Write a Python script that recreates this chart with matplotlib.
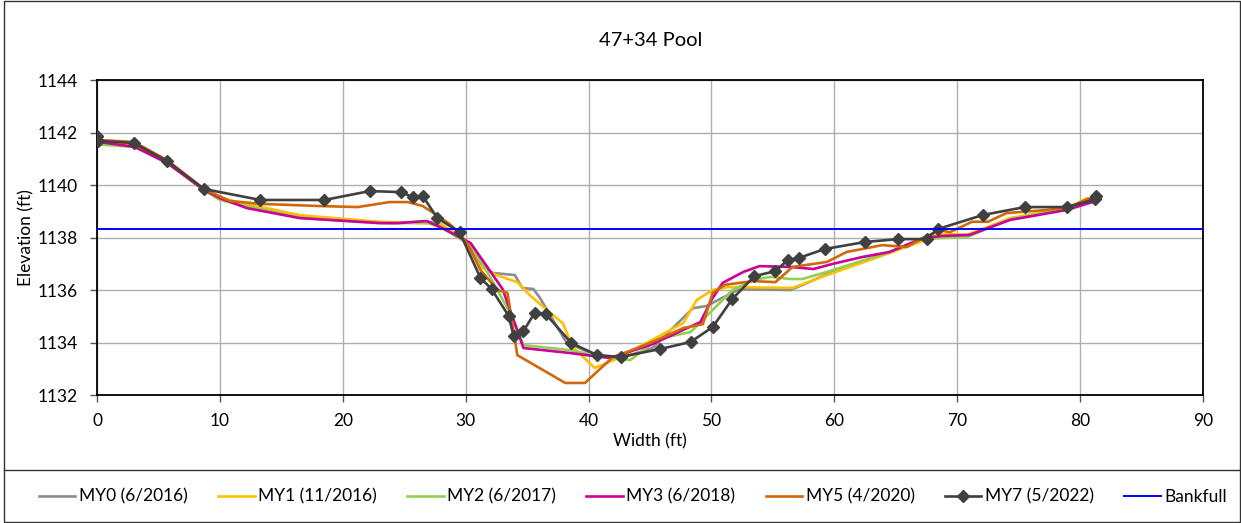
import matplotlib
matplotlib.use("Agg")
import matplotlib.pyplot as plt
from matplotlib.lines import Line2D
from matplotlib.patches import Rectangle

plt.rcParams["font.family"] = ["Lato", "DejaVu Sans"]

# cross-section survey data, width (ft) vs elevation (ft)
my0_x = [0, 3.0, 5.7, 8.7, 10.5, 13.0, 17.0, 21.0, 24.0, 27.0, 28.0, 29.8, 31.0, 32.2, 34.0,
         34.6, 35.5, 36.0, 38.2, 40.7, 42.6, 45.2, 48.5, 49.6, 50.7, 52.3, 56.4, 57.4, 59.6,
         64.5, 67.2, 68.8, 70.8, 74.3, 78.9, 81.0]
my0_y = [1141.65, 1141.55, 1140.9, 1139.8, 1139.45, 1139.15, 1138.8, 1138.65, 1138.55, 1138.6,
         1138.5, 1137.95, 1137.1, 1136.65, 1136.57, 1136.08, 1136.04, 1135.73, 1134.0, 1133.49,
         1133.41, 1133.79, 1135.31, 1135.39, 1135.66, 1136.04, 1136.0, 1136.19, 1136.65, 1137.45,
         1137.95, 1138.0, 1138.05, 1138.7, 1139.1, 1139.45]

my1_x = [0, 3.0, 5.7, 8.7, 10.5, 13.0, 16.5, 23.0, 26.8, 28.0, 29.8, 31.2, 32.5, 34.2, 35.2,
         36.9, 37.9, 38.7, 40.5, 41.5, 42.6, 45.6, 47.7, 48.8, 50.1, 51.3, 56.6, 59.4, 64.5,
         67.2, 68.6, 70.8, 74.3, 78.9, 80.6]
my1_y = [1141.65, 1141.55, 1140.9, 1139.8, 1139.45, 1139.2, 1138.85, 1138.6, 1138.55, 1138.5,
         1137.95, 1136.88, 1136.57, 1136.3, 1135.81, 1135.12, 1134.74, 1133.83, 1133.03, 1133.22,
         1133.45, 1134.21, 1134.74, 1135.62, 1136.0, 1136.11, 1136.08, 1136.57, 1137.41, 1137.87,
         1138.15, 1138.1, 1138.74, 1139.12, 1139.5]

my2_x = [0, 3.0, 5.7, 8.7, 10.0, 13.0, 16.5, 23.0, 27.0, 28.1, 30.4, 31.5, 32.7, 33.8, 34.7,
         38.5, 40.7, 43.4, 45.6, 48.3, 50.1, 51.7, 53.4, 54.8, 56.4, 57.4, 59.4, 64.5, 67.2,
         68.8, 70.8, 74.3, 78.9, 80.6]
my2_y = [1141.55, 1141.45, 1140.85, 1139.8, 1139.43, 1139.1, 1138.75, 1138.55, 1138.55, 1138.36,
         1137.7, 1136.9, 1135.9, 1134.97, 1133.9, 1133.71, 1133.49, 1133.33, 1134.13, 1134.4,
         1135.24, 1136.0, 1136.38, 1136.5, 1136.42, 1136.42, 1136.69, 1137.45, 1137.95, 1137.98,
         1138.02, 1138.7, 1139.1, 1139.45]

my3_x = [0, 3.1, 5.7, 8.6, 10.0, 12.2, 16.5, 23.0, 24.5, 26.8, 28.1, 30.4, 33.0, 34.7, 38.5,
         41.7, 45.0, 49.1, 50.0, 50.9, 52.6, 53.9, 56.4, 58.3, 59.9, 62.3, 64.5, 67.2, 68.8,
         71.0, 74.3, 78.9, 81.0]
my3_y = [1141.65, 1141.45, 1140.84, 1139.85, 1139.5, 1139.12, 1138.74, 1138.55, 1138.55, 1138.63,
         1138.36, 1137.79, 1136.04, 1133.79, 1133.6, 1133.41, 1133.9, 1134.78, 1135.62, 1136.27,
         1136.69, 1136.91, 1136.88, 1136.8, 1137.0, 1137.26, 1137.45, 1137.98, 1138.06, 1138.1,
         1138.67, 1139.05, 1139.35]

my5_x = [0, 3.0, 5.7, 8.7, 10.8, 13.4, 18.1, 21.2, 23.8, 25.3, 26.5, 27.4, 28.7, 29.5, 30.3,
         31.2, 32.6, 33.4, 34.2, 38.1, 39.7, 41.9, 45.6, 47.7, 49.3, 50.1, 51.1, 53.4, 55.2,
         56.6, 59.4, 61.0, 63.9, 65.9, 67.2, 68.6, 69.4, 71.2, 72.5, 74.0, 77.3, 79.2, 80.6, 81.0]
my5_y = [1141.72, 1141.64, 1140.95, 1139.85, 1139.39, 1139.28, 1139.2, 1139.16, 1139.35, 1139.35,
         1139.2, 1138.93, 1138.51, 1138.17, 1137.64, 1136.76, 1136.0, 1135.89, 1133.52, 1132.46,
         1132.46, 1133.41, 1134.1, 1134.55, 1134.7, 1135.89, 1136.2, 1136.34, 1136.3, 1136.88,
         1137.07, 1137.45, 1137.71, 1137.64, 1137.98, 1138.29, 1138.2, 1138.6, 1138.6, 1138.93,
         1139.05, 1139.16, 1139.47, 1139.5]

my7_x = [0, 0.05, 3.0, 5.7, 8.7, 13.3, 18.5, 22.2, 24.7, 25.7, 26.5, 27.7, 29.5, 31.2, 32.1,
         33.5, 33.9, 34.7, 35.6, 36.5, 38.6, 40.7, 42.6, 45.8, 48.3, 50.1, 51.7, 53.5, 55.2,
         56.2, 57.1, 59.2, 62.5, 65.2, 67.5, 68.4, 72.1, 75.5, 78.9, 81.2, 81.3]
my7_y = [1141.85, 1141.68, 1141.6, 1140.91, 1139.85, 1139.43, 1139.43, 1139.77, 1139.73, 1139.54,
         1139.58, 1138.74, 1138.21, 1136.46, 1136.04, 1135.01, 1134.25, 1134.44, 1135.12, 1135.09,
         1133.98, 1133.52, 1133.45, 1133.75, 1134.02, 1134.59, 1135.66, 1136.53, 1136.72, 1137.14,
         1137.22, 1137.56, 1137.83, 1137.94, 1137.94, 1138.32, 1138.86, 1139.16, 1139.16, 1139.45,
         1139.57]

bankfull = 1138.33

series = [
    ("MY0 (6/2016)", my0_x, my0_y, "#8C8C8C"),
    ("MY1 (11/2016)", my1_x, my1_y, "#FFC000"),
    ("MY2 (6/2017)", my2_x, my2_y, "#92D050"),
    ("MY3 (6/2018)", my3_x, my3_y, "#CC0099"),
    ("MY5 (4/2020)", my5_x, my5_y, "#D0680A"),
]

fig = plt.figure(figsize=(12.41, 5.23), dpi=100)
ax = fig.add_axes([0.0782, 0.2447, 0.8912, 0.6023])

for label, xs, ys, col in series:
    ax.plot(xs, ys, color=col, lw=1.9, label=label, zorder=3)
ax.plot(my7_x, my7_y, color="#404040", lw=1.9, marker="D", ms=6.5,
        label="MY7 (5/2022)", zorder=4)
ax.axhline(bankfull, color="#0000FF", lw=1.4, label="Bankfull", zorder=5)

ax.set_xlim(0, 90)
ax.set_ylim(1132, 1144)
ax.set_xticks(range(0, 91, 10))
ax.set_yticks(range(1132, 1145, 2))
ax.grid(True, color="#AFAFAF", lw=1.0, zorder=0)
ax.tick_params(direction="out", length=5, width=1, color="#555555",
               labelsize=12.5)
ax.tick_params(axis="x", pad=8)
ax.tick_params(axis="y", pad=9)
for sp in ax.spines.values():
    sp.set_color("black")
    sp.set_linewidth(1.3)

ax.set_xlabel("Width (ft)", fontsize=12.5, labelpad=3)
ax.set_ylabel("Elevation (ft)", fontsize=12.5, labelpad=2)
fig.text(0.524, 0.923, "47+34 Pool", ha="center", va="center", fontsize=14.5)

# outer frame and legend panel
fig.patches.append(Rectangle((0.003, 0.002), 0.996, 0.996, transform=fig.transFigure,
                             fill=False, ec="#333333", lw=1.0))
fig.lines.append(Line2D([0.003, 0.999], [0.1013, 0.1013], transform=fig.transFigure,
                        color="#333333", lw=1.0))

handles, labels = ax.get_legend_handles_labels()
fig.legend(handles, labels, loc="center", bbox_to_anchor=(0.51, 0.05), ncol=7,
           frameon=False, fontsize=12.5, handlelength=2.1, handletextpad=0.2,
           columnspacing=1.75)

fig.savefig("out.png", dpi=100)
